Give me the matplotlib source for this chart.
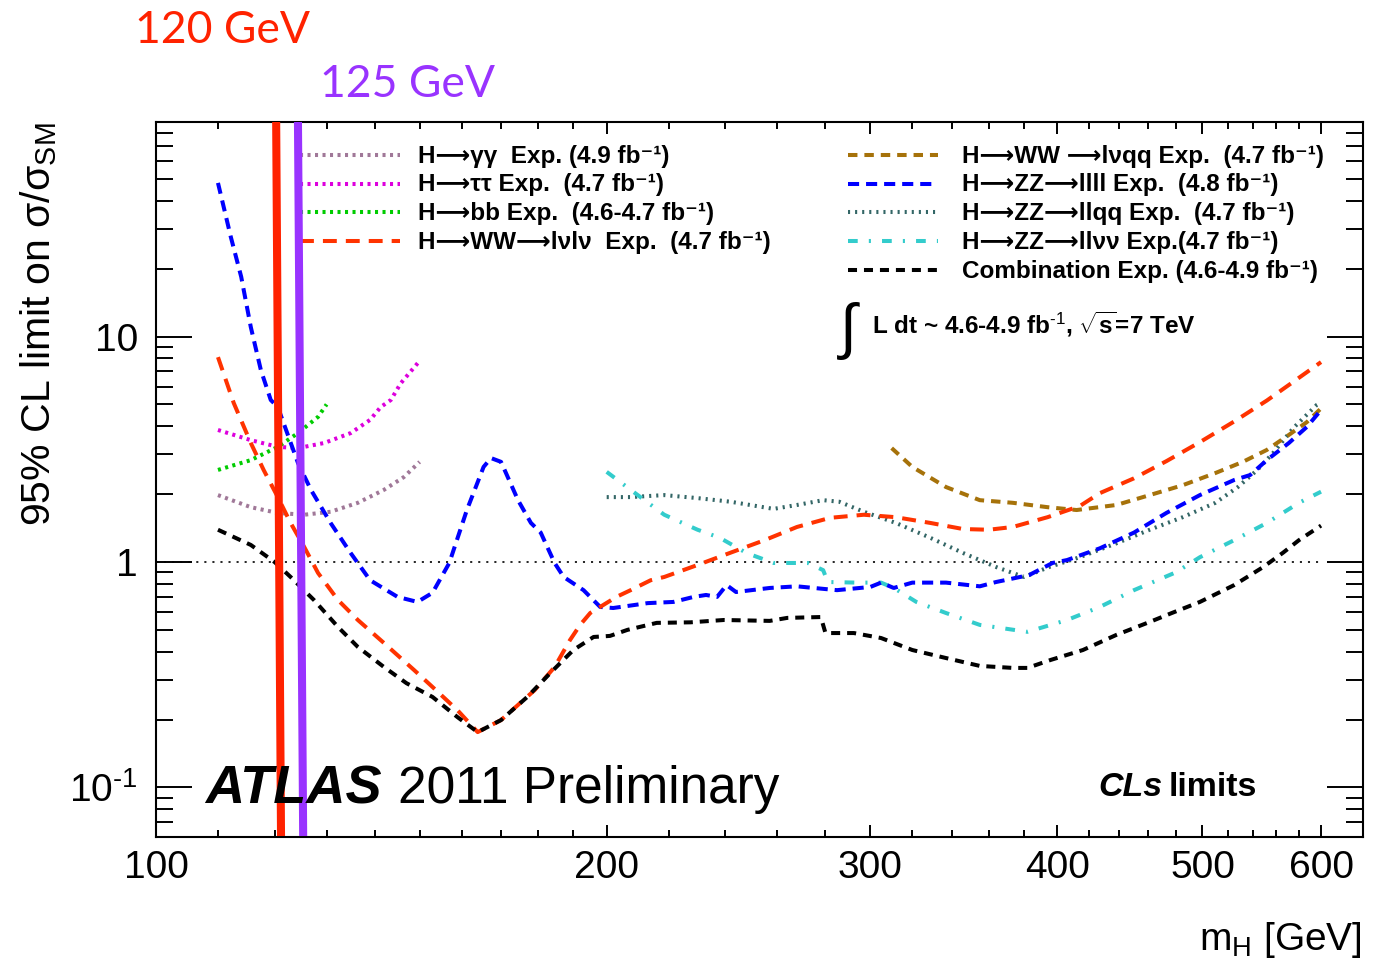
import matplotlib
matplotlib.use('Agg')
import matplotlib.pyplot as plt
from matplotlib.ticker import FixedLocator, FixedFormatter, NullFormatter

plt.rcParams['font.family'] = ['Liberation Sans', 'DejaVu Sans']
plt.rcParams['mathtext.fontset'] = 'custom'
plt.rcParams['mathtext.rm'] = 'Liberation Sans'
plt.rcParams['mathtext.it'] = 'Liberation Sans:italic'
plt.rcParams['mathtext.bf'] = 'Liberation Sans:bold'
plt.rcParams['lines.scale_dashes'] = False

# ---------------- data ----------------
comb_m = [110, 115.7, 120, 123, 127.5, 132.3, 136.4, 142, 147, 153, 159, 164, 170, 177, 183.4, 190,
          196, 201, 206.5, 216, 227.5, 239.5, 257, 264, 278, 280, 292.5, 305, 320, 337, 355, 373.5,
          382, 396, 416, 438, 461, 477, 498, 525, 549, 566, 580, 600]
comb_y = [1.39, 1.19, 1.0, 0.858, 0.678, 0.515, 0.42, 0.342, 0.29, 0.252, 0.205, 0.176, 0.199, 0.252,
          0.322, 0.407, 0.465, 0.47, 0.50, 0.537, 0.54, 0.553, 0.548, 0.565, 0.57, 0.484, 0.484, 0.46,
          0.407, 0.375, 0.346, 0.339, 0.339, 0.368, 0.407, 0.475, 0.542, 0.594, 0.665, 0.79, 0.95,
          1.10, 1.25, 1.45]

wwlvlv_m = [110, 112.7, 115.7, 118, 120.6, 123, 125.6, 128.3, 132.3, 136.4, 142, 148.7, 153, 159, 164,
            170, 179, 184.6, 189, 192, 195, 198, 203, 207.5, 214, 218.5, 230, 242, 255, 268, 282, 297,
            312, 329, 346, 360, 373.5, 394, 414, 427, 450, 473, 498, 525, 552, 575, 600]
wwlvlv_y = [8.1, 5.07, 3.37, 2.56, 1.94, 1.49, 1.166, 0.894, 0.678, 0.553, 0.437, 0.332, 0.279, 0.22,
            0.176, 0.199, 0.27, 0.342, 0.45, 0.526, 0.594, 0.632, 0.70, 0.75, 0.83, 0.858, 0.97, 1.10,
            1.25, 1.43, 1.57, 1.62, 1.58, 1.49, 1.40, 1.39, 1.43, 1.58, 1.77, 2.02, 2.35, 2.8, 3.4,
            4.2, 5.2, 6.3, 7.7]

zzllll_m = [110, 112.2, 114, 115.7, 117.5, 119.3, 120.6, 124.4, 126.9, 130.8, 134.9, 139, 145, 149.5,
            153, 157, 161.3, 165.5, 167.4, 170, 174.5, 178, 180.7, 184.6, 187.2, 193, 195, 198, 202,
            213, 221.6, 228.6, 233, 237, 240.5, 244, 257, 268, 275, 285, 300, 305, 311, 320, 337, 355,
            364, 383, 397, 406, 427, 450, 473, 498, 525, 538, 552, 571, 587, 600]
zzllll_y = [48, 27.6, 18.4, 11.0, 7.1, 5.23, 4.87, 2.75, 2.09, 1.49, 1.096, 0.83, 0.70, 0.665, 0.73,
            0.99, 1.70, 2.64, 2.89, 2.78, 1.88, 1.49, 1.35, 0.99, 0.858, 0.75, 0.70, 0.632, 0.625,
            0.657, 0.665, 0.70, 0.714, 0.70, 0.79, 0.736, 0.767, 0.78, 0.767, 0.75, 0.775, 0.81,
            0.767, 0.81, 0.81, 0.78, 0.815, 0.875, 0.99, 1.02, 1.15, 1.35, 1.65, 1.98, 2.31, 2.43,
            2.83, 3.37, 3.97, 4.72]

gg_m = [110, 115.7, 120.6, 125.6, 130.8, 136.4, 142, 146.4, 150]
gg_y = [1.98, 1.75, 1.65, 1.62, 1.67, 1.83, 2.09, 2.38, 2.78]

tautau_m = [110, 115.7, 120.6, 124.4, 129.5, 134.9, 139, 141.3, 143.5, 145.7, 150]
tautau_y = [3.85, 3.47, 3.24, 3.2, 3.37, 3.73, 4.27, 4.87, 5.23, 6.2, 7.8]

bb_m = [110, 115.7, 120.6, 124.4, 128.3, 130]
bb_y = [2.56, 2.83, 3.24, 3.73, 4.4, 5.0]

zzllqq_m = [200, 207.5, 218.5, 230, 242, 258.5, 268, 279, 286, 297, 312, 329, 346, 364, 380, 395,
            414, 438, 461, 485, 510, 528, 544, 558, 575, 596, 600]
zzllqq_y = [1.94, 1.94, 1.98, 1.92, 1.85, 1.72, 1.79, 1.88, 1.85, 1.67, 1.49, 1.28, 1.096, 0.95,
            0.858, 0.95, 1.05, 1.21, 1.39, 1.58, 1.83, 2.15, 2.56, 3.07, 3.93, 4.97, 5.1]

zzllvv_m = [200, 207.5, 218.5, 230, 238, 248, 258.5, 272.5, 279, 281, 294, 305, 311, 322, 337, 355,
            382, 406, 427, 450, 480, 498, 525, 552, 580, 600]
zzllvv_y = [2.51, 2.09, 1.62, 1.39, 1.28, 1.096, 0.99, 0.99, 0.92, 0.815, 0.81, 0.81, 0.767, 0.665,
            0.594, 0.526, 0.49, 0.553, 0.632, 0.75, 0.90, 1.05, 1.25, 1.49, 1.83, 2.05]

wwlvqq_m = [310, 320, 337, 355, 373.5, 394, 412, 438, 461, 485, 510, 532, 552, 571, 587, 600]
wwlvqq_y = [3.2, 2.64, 2.15, 1.88, 1.83, 1.75, 1.70, 1.79, 1.98, 2.19, 2.48, 2.78, 3.14, 3.66, 4.17, 4.8]

# mass-hypothesis marker lines (top mass, bottom mass)
marker_labels = ['120 GeV', '125 GeV']
marker_top_m = [120.3, 124.4]
marker_bot_m = [121.2, 125.4]

x_major = [100, 200, 300, 400, 500, 600]
x_major_labels = ['100', '200', '300', '400', '500', '600']
y_major = [0.1, 1, 10]
y_major_labels = [r'10$^{\text{-}1}$', '1', '10']

# ---------------- figure ----------------
W, H = 1386, 961
L, R, T, B = 156, 1363, 122, 837
fig = plt.figure(figsize=(W / 100, H / 100), dpi=100)
ax = fig.add_axes([L / W, 1 - B / H, (R - L) / W, (B - T) / H])
ax.set_xscale('log')
ax.set_yscale('log')
XMIN, XMAX, YMIN, YMAX = 100, 640, 0.0603, 89.4

LW = 2.9
styles = {
    'gg':     dict(color='#a07898', lw=LW, ls=(0, (2.2, 3.2))),
    'tautau': dict(color='#dd00dd', lw=LW, ls=(0, (2.2, 3.2))),
    'bb':     dict(color='#00cc00', lw=LW, ls=(0, (2.2, 3.2))),
    'wwlvlv': dict(color='#ff3300', lw=LW, ls=(0, (10, 6.5))),
    'wwlvqq': dict(color='#a6720a', lw=LW, ls=(0, (6.8, 5.0))),
    'zzllll': dict(color='#0000ff', lw=LW, ls=(0, (8, 5))),
    'zzllqq': dict(color='#336666', lw=LW, ls=(0, (1.5, 3.6))),
    'zzllvv': dict(color='#33cccc', lw=LW, ls=(0, (7, 8, 1.5, 8))),
    'comb':   dict(color='black', lw=LW, ls=(0, (6.5, 5.0))),
}

# reference line at 1
ax.plot([100, 600], [1, 1], color='black', lw=1.2, ls=(0, (1.5, 4.3)), zorder=1)

ax.plot(gg_m, gg_y, **styles['gg'])
ax.plot(tautau_m, tautau_y, **styles['tautau'])
ax.plot(bb_m, bb_y, **styles['bb'])
ax.plot(zzllqq_m, zzllqq_y, **styles['zzllqq'])
ax.plot(zzllvv_m, zzllvv_y, **styles['zzllvv'])
ax.plot(wwlvqq_m, wwlvqq_y, **styles['wwlvqq'])
ax.plot(zzllll_m, zzllll_y, **styles['zzllll'])
ax.plot(wwlvlv_m, wwlvlv_y, **styles['wwlvlv'])
ax.plot(comb_m, comb_y, **styles['comb'])

# vertical marker lines
marker_colors = ['#ff2200', '#9933ff']
for mt, mb, c in zip(marker_top_m, marker_bot_m, marker_colors):
    ax.plot([mt, mb], [YMAX, YMIN * 1.01], color=c, lw=5.8, solid_capstyle='butt', zorder=10)

ax.set_xlim(XMIN, XMAX)
ax.set_ylim(YMIN, YMAX)

# ticks
x_minor = [m for m in range(110, 200, 10)] + [m for m in range(220, 600, 20) if m % 100 != 0]
y_minor = [0.07, 0.08, 0.09] + [i / 10 for i in range(2, 10)] + list(range(2, 10)) + list(range(20, 90, 10))
ax.xaxis.set_major_locator(FixedLocator(x_major))
ax.xaxis.set_major_formatter(FixedFormatter(x_major_labels))
ax.xaxis.set_minor_locator(FixedLocator(x_minor))
ax.xaxis.set_minor_formatter(NullFormatter())
ax.yaxis.set_major_locator(FixedLocator(y_major))
ax.yaxis.set_major_formatter(FixedFormatter(y_major_labels))
ax.yaxis.set_minor_locator(FixedLocator(y_minor))
ax.yaxis.set_minor_formatter(NullFormatter())

ax.tick_params(which='both', direction='in', top=True, right=True, width=1.4, labelsize=28)
ax.tick_params(axis='x', which='major', length=8.6, pad=9)
ax.tick_params(axis='x', which='minor', length=5)
ax.tick_params(axis='y', which='major', length=26, pad=13)
ax.tick_params(axis='y', which='minor', length=12.5)
for s in ax.spines.values():
    s.set_linewidth(1.5)

# axis titles
fig.text(39 / W, 1 - 122 / H, r'95% CL limit on σ/σ$_{\rm SM}$', rotation=90,
         ha='center', va='top', fontsize=29.5)
fig.text(1362 / W, 1 - 950 / H, r'm$_{\rm H}$ [GeV]', ha='right', va='baseline', fontsize=28)

# legends (manual, ROOT-style)
def apos(px, py):
    return (px - L) / (R - L), (B - py) / (B - T)

SUP = '⁻¹'
ARR = '⟶'
left_entries = [
    ('gg', 'H' + ARR + 'γγ  Exp. (4.9 fb' + SUP + ')'),
    ('tautau', 'H' + ARR + 'ττ Exp.  (4.7 fb' + SUP + ')'),
    ('bb', 'H' + ARR + 'bb Exp.  (4.6-4.7 fb' + SUP + ')'),
    ('wwlvlv', 'H' + ARR + 'WW' + ARR + 'lνlν  Exp.  (4.7 fb' + SUP + ')'),
]
right_entries = [
    ('wwlvqq', 'H' + ARR + 'WW ' + ARR + 'lνqq Exp.  (4.7 fb' + SUP + ')'),
    ('zzllll', 'H' + ARR + 'ZZ' + ARR + 'llll Exp.  (4.8 fb' + SUP + ')'),
    ('zzllqq', 'H' + ARR + 'ZZ' + ARR + 'llqq Exp.  (4.7 fb' + SUP + ')'),
    ('zzllvv', 'H' + ARR + 'ZZ' + ARR + 'llνν Exp.(4.7 fb' + SUP + ')'),
    ('comb', 'Combination Exp. (4.6-4.9 fb' + SUP + ')'),
]
rows = [155, 183.5, 212, 241, 270]
for (key, lab), ry in zip(left_entries, rows):
    x0, y0 = apos(300, ry)
    x1, _ = apos(400, ry)
    ax.plot([x0, x1], [y0, y0], transform=ax.transAxes, clip_on=False, **styles[key])
    tx, ty = apos(418, ry + 8)
    ax.text(tx, ty, lab, transform=ax.transAxes, fontsize=17.5, fontweight='bold', va='baseline')
for (key, lab), ry in zip(right_entries, rows):
    x0, y0 = apos(848, ry)
    x1, _ = apos(938, ry)
    ax.plot([x0, x1], [y0, y0], transform=ax.transAxes, clip_on=False, **styles[key])
    tx, ty = apos(962, ry + 8)
    ax.text(tx, ty, lab, transform=ax.transAxes, fontsize=17.5, fontweight='bold', va='baseline')

# luminosity text
fig.text(840 / W, 1 - 347 / H, '∫', fontsize=44, va='baseline', ha='left')
fig.text(872 / W, 1 - 334 / H, r'L dt ~ 4.6-4.9 fb$^{\text{-}1}$, $\sqrt{\mathbf{s}}$=7 TeV',
         fontsize=17.5, fontweight='bold', va='baseline')

# ATLAS label
fig.text(205 / W, 1 - 803 / H, 'ATLAS', fontsize=39, fontweight='bold', style='italic', va='baseline')
fig.text(398 / W, 1 - 803 / H, '2011 Preliminary', fontsize=37, va='baseline')

fig.text(1098 / W, 1 - 796 / H, 'CLs', fontsize=24.5, fontweight='bold', style='italic', va='baseline')
fig.text(1169 / W, 1 - 796 / H, 'limits', fontsize=24.5, fontweight='bold', va='baseline')

# mass hypothesis annotations
fig.text(135 / W, 1 - 43 / H, marker_labels[0], fontsize=32, color='#ff2200', family='Lato', va='baseline')
fig.text(320 / W, 1 - 97 / H, marker_labels[1], fontsize=32, color='#9933ff', family='Lato', va='baseline')

fig.savefig('out.png', dpi=100)
